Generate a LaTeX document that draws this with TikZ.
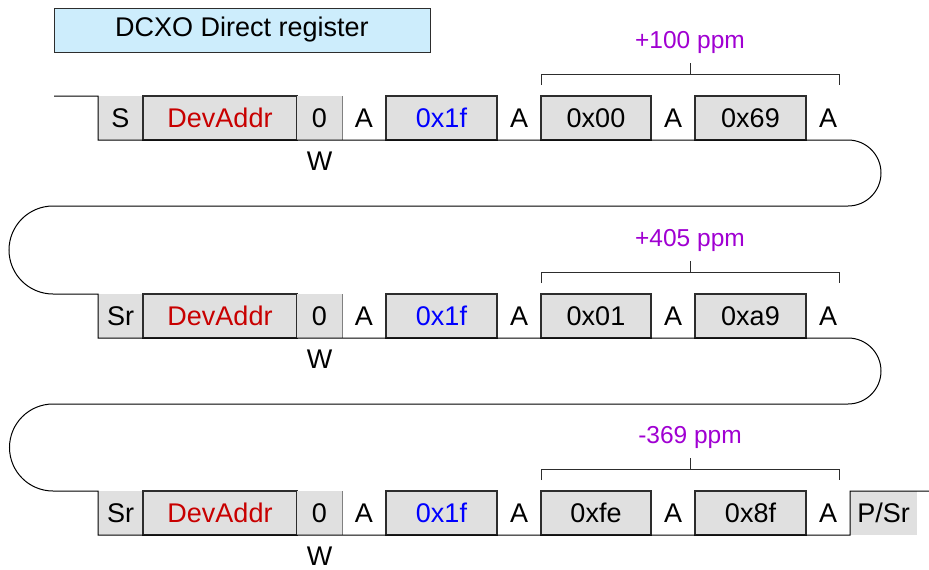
\documentclass[tikz,border=0pt]{standalone}
\usepackage{fontspec}
\setmainfont{Liberation Sans}
\definecolor{cellgray}{RGB}{224,224,224}
\definecolor{titleblue}{RGB}{205,237,252}
\definecolor{devred}{RGB}{200,0,0}
\definecolor{regblue}{RGB}{0,0,255}
\definecolor{ppmpurple}{RGB}{160,0,210}
\definecolor{edge}{RGB}{45,45,45}
\tikzset{
  lbl/.style={font=\fontsize{27}{31}\selectfont, inner sep=0pt, outer sep=0pt},
  cell/.style={lbl, rectangle, anchor=north west, minimum height=44pt},
  graycell/.style={cell, fill=cellgray},
  boxcell/.style={cell, fill=cellgray, draw=edge, line width=1.1pt},
  plaincell/.style={cell},
  sig/.style={draw=black, line width=1pt},
  bracket/.style={draw=edge, line width=0.8pt},
  ppm/.style={lbl, font=\fontsize{24.5}{28}\selectfont, text=ppmpurple},
  titlebox/.style={lbl, draw=edge, line width=0.9pt, fill=titleblue, minimum width=376pt, minimum height=44pt}
}
\begin{document}
\begin{tikzpicture}[x=1pt,y=1pt]
\useasboundingbox (0,0) rectangle (929,-570);
\node[titlebox] (title) at (242,-30) {DCXO Direct register};
\foreach \r/\T/\first/\ba/\bb/\pp in {1/96/S/0x00/0x69/+100 ppm, 2/294/Sr/0x01/0xa9/+405 ppm, 3/491/Sr/0xfe/0x8f/-369 ppm}{
  \node[graycell, minimum width=45pt] (first\r) at (98,-\T) {\first};
  \node[boxcell, minimum width=154pt, text=devred] (dev\r) at (143,-\T) {DevAddr};
  \node[graycell, minimum width=45pt] (zero\r) at (297,-\T) {0};
  \draw[draw=gray, line width=0.6pt] (zero\r.north east) -- (zero\r.south east);
  \node[plaincell, minimum width=44pt] (aa\r) at (342,-\T) {A};
  \node[boxcell, minimum width=111pt, text=regblue] (reg\r) at (386,-\T) {0x1f};
  \node[plaincell, minimum width=44pt] (ab\r) at (497,-\T) {A};
  \node[boxcell, minimum width=110pt] (ba\r) at (541,-\T) {\ba};
  \node[plaincell, minimum width=44pt] (ac\r) at (651,-\T) {A};
  \node[boxcell, minimum width=111pt] (bb\r) at (695,-\T) {\bb};
  \node[plaincell, minimum width=44pt] (ad\r) at (806,-\T) {A};
  \node[lbl] (w\r) at (319.5,{-\T-65}) {W};
  \coordinate (brl\r) at (541,{-\T+22});
  \coordinate (brr\r) at (839,{-\T+22});
  \coordinate (brc\r) at (690,{-\T+22});
  \draw[bracket] ([yshift=-11pt]brl\r) -- (brl\r) -- (brr\r) -- ([yshift=-11pt]brr\r);
  \draw[bracket] (brc\r) -- ([yshift=11pt]brc\r);
  \node[ppm] (ppm\r) at (690,{-\T+54}) {\pp};
}
\node[cell, fill=cellgray, minimum width=67pt] (psr) at (850,-491) {P/Sr};
\draw[sig] (54,-96) -- (98,-96) -- (98,-140) -- (848,-140)
  arc[start angle=90, end angle=-90, radius=33] -- (53,-206)
  arc[start angle=90, end angle=270, radius=44] -- (98,-294) -- (98,-338) -- (848,-338)
  arc[start angle=90, end angle=-90, radius=33] -- (53,-404)
  arc[start angle=90, end angle=270, radius=43.5] -- (98,-491) -- (98,-535) -- (850,-535)
  -- (850,-491) -- (929,-491);
\end{tikzpicture}
\end{document}
